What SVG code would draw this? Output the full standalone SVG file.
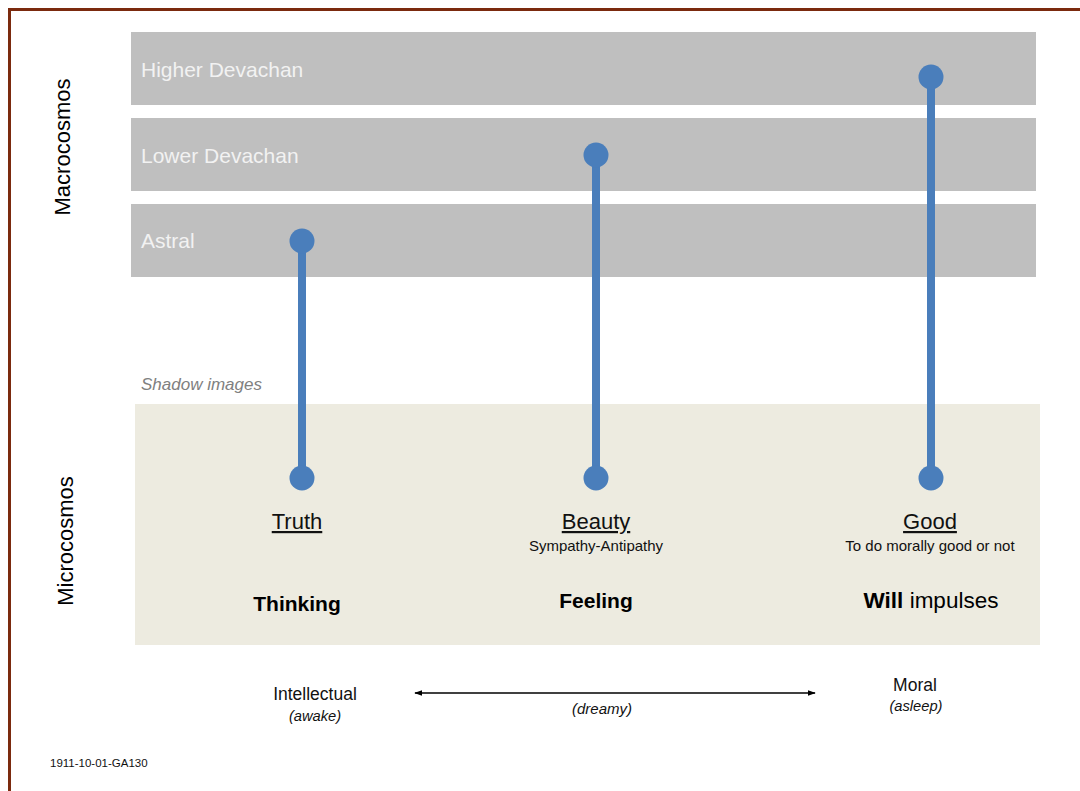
<svg xmlns="http://www.w3.org/2000/svg" width="1080" height="791" viewBox="0 0 1080 791">
<style>
text{font-family:"Liberation Sans",Arial,sans-serif;}
.band{fill:#BFBFBF;}
.bandlabel{fill:#F2F2F2;font-size:21px;}
.side{fill:#000;font-size:22px;}
.virtue{fill:#111;font-size:22px;text-decoration:underline;text-anchor:middle;}
.sub{fill:#111;font-size:15px;text-anchor:middle;}
.faculty{fill:#000;font-size:21px;text-anchor:middle;}
.state{fill:#111;font-size:17.5px;text-anchor:middle;}
.statei{fill:#111;font-size:14.7px;font-style:italic;text-anchor:middle;}
.stem{stroke:#4A7EBB;stroke-width:8;fill:none;}
.dot{fill:#4A7EBB;}
</style>
<defs>
<marker id="ah" viewBox="0 0 10 10" refX="9" refY="5" markerWidth="8" markerHeight="8" markerUnits="userSpaceOnUse" orient="auto-start-reverse">
<path d="M0,1.5 L10,5 L0,8.5 Z" fill="#000"/>
</marker>
</defs>
<rect width="1080" height="791" fill="#fff"/>
<path d="M9.5,791 L9.5,9.5 L1080,9.5" fill="none" stroke="#7B2A0E" stroke-width="3"/>

<g id="higher-devachan">
<rect class="band" x="131" y="32" width="905" height="73"/>
<text class="bandlabel" x="141" y="77">Higher Devachan</text>
</g>
<g id="lower-devachan">
<rect class="band" x="131" y="118" width="905" height="73"/>
<text class="bandlabel" x="141" y="163">Lower Devachan</text>
</g>
<g id="astral">
<rect class="band" x="131" y="204" width="905" height="73"/>
<text class="bandlabel" x="141" y="248">Astral</text>
</g>

<g id="macrocosmos-label">
<text class="side" transform="translate(70,147) rotate(-90)" text-anchor="middle">Macrocosmos</text>
</g>

<g id="shadow-images">
<text x="141" y="390" fill="#808080" font-size="17" font-style="italic">Shadow images</text>
</g>

<g id="microcosmos">
<rect x="135" y="404" width="905" height="241" fill="#EDEBE0"/>
</g>
<g id="microcosmos-label">
<text class="side" transform="translate(73,541) rotate(-90)" text-anchor="middle">Microcosmos</text>
</g>

<g id="connectors">
<line class="stem" x1="302" y1="241" x2="302" y2="478"/>
<circle class="dot" cx="302" cy="241" r="12.5"/>
<circle class="dot" cx="302" cy="478" r="12.5"/>
<line class="stem" x1="596" y1="155" x2="596" y2="478"/>
<circle class="dot" cx="596" cy="155" r="12.5"/>
<circle class="dot" cx="596" cy="478" r="12.5"/>
<line class="stem" x1="931" y1="77" x2="931" y2="478"/>
<circle class="dot" cx="931" cy="77" r="12.5"/>
<circle class="dot" cx="931" cy="478" r="12.5"/>
<line x1="415" y1="693" x2="815" y2="693" stroke="#000" stroke-width="1.3" marker-start="url(#ah)" marker-end="url(#ah)"/>
</g>

<g id="truth">
<text class="virtue" x="297" y="529">Truth</text>
<text class="faculty" x="297" y="611" font-weight="bold">Thinking</text>
</g>
<g id="beauty">
<text class="virtue" x="596" y="529">Beauty</text>
<text class="sub" x="596" y="551">Sympathy-Antipathy</text>
<text class="faculty" x="596" y="608" font-weight="bold">Feeling</text>
</g>
<g id="good">
<text class="virtue" x="930" y="529">Good</text>
<text class="sub" x="930" y="551">To do morally good or not</text>
<text class="faculty" x="931" y="608" style="font-size:22.5px"><tspan font-weight="bold">Will</tspan> impulses</text>
</g>

<g id="intellectual">
<text class="state" x="315" y="700">Intellectual</text>
<text class="statei" x="315" y="721">(awake)</text>
</g>
<g id="dreamy">
<text class="statei" x="602" y="714" style="font-size:15px">(dreamy)</text>
</g>
<g id="moral">
<text class="state" x="915" y="691">Moral</text>
<text class="statei" x="916" y="711">(asleep)</text>
</g>

<text x="50" y="767" fill="#111" font-size="11.5">1911-10-01-GA130</text>
</svg>
